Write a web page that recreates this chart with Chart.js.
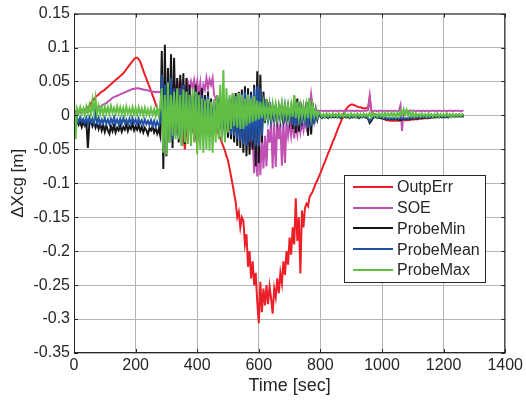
<!DOCTYPE html>
<html>
<head>
<meta charset="utf-8">
<script src="https://cdn.jsdelivr.net/npm/chart.js@4.4.1/dist/chart.umd.min.js"></script>
<style>
  html, body { margin: 0; padding: 0; background: #ffffff; }
  canvas { display: block; }
</style>
</head>
<body>
<canvas id="c" width="526" height="400"></canvas>
<script>
// ---- data (sample times every 5 s from 0 to 1265 s) ----
const time = [];
for (let t = 0; t <= 1265; t += 5) time.push(t);

const seriesNames = ['OutpErr', 'SOE', 'ProbeMin', 'ProbeMean', 'ProbeMax'];

const outpErr = [
  0.003,0.006,0.004,0.007,0.005,0.008,0.006,0.009,0.010,0.012,
  0.014,0.018,0.021,0.024,0.027,0.029,0.031,0.033,0.035,0.036,
  0.038,0.040,0.042,0.044,0.046,0.048,0.050,0.052,0.054,0.056,
  0.058,0.060,0.062,0.065,0.068,0.071,0.074,0.077,0.080,0.083,
  0.085,0.085,0.083,0.079,0.073,0.066,0.060,0.054,0.048,0.042,
  0.036,0.030,0.024,0.017,0.010,0.004,0.002,-0.004,0.008,-0.010,
  0.012,-0.015,0.006,-0.020,0.015,-0.008,0.010,-0.025,0.004,-0.018,
  0.012,-0.030,-0.050,-0.020,0.010,-0.015,0.008,-0.025,0.005,-0.030,
  -0.044,-0.010,0.008,-0.022,0.012,-0.018,0.006,-0.012,0.002,-0.008,
  -0.008,-0.012,-0.016,-0.022,-0.028,-0.034,-0.040,-0.046,-0.052,-0.060,
  -0.066,-0.078,-0.090,-0.102,-0.115,-0.128,-0.150,-0.142,-0.165,-0.150,
  -0.155,-0.190,-0.175,-0.223,-0.200,-0.240,-0.215,-0.250,-0.232,-0.275,
  -0.306,-0.245,-0.290,-0.255,-0.280,-0.250,-0.278,-0.252,-0.270,-0.292,
  -0.255,-0.268,-0.240,-0.262,-0.232,-0.248,-0.215,-0.235,-0.200,-0.220,
  -0.180,-0.205,-0.165,-0.190,-0.122,-0.185,-0.150,-0.233,-0.140,-0.165,
  -0.136,-0.130,-0.134,-0.120,-0.116,-0.112,-0.106,-0.100,-0.096,-0.090,
  -0.085,-0.079,-0.073,-0.068,-0.062,-0.056,-0.051,-0.045,-0.039,-0.034,
  -0.028,-0.022,-0.016,-0.011,-0.005,0.001,0.007,0.010,0.013,0.015,
  0.016,0.016,0.015,0.014,0.013,0.012,0.012,0.011,0.011,0.010,
  0.011,0.012,0.027,0.008,0.003,0.002,0.001,0.000,-0.002,-0.003,
  -0.004,-0.005,-0.006,-0.007,-0.007,-0.008,-0.008,-0.008,-0.008,-0.008,
  -0.008,-0.008,-0.007,-0.008,-0.007,-0.007,-0.007,-0.006,-0.007,-0.006,
  -0.006,-0.006,-0.005,-0.006,-0.005,-0.005,-0.005,-0.004,-0.004,-0.004,
  -0.004,-0.003,-0.003,-0.003,-0.003,-0.002,-0.002,-0.002,-0.002,-0.002,
  -0.002,-0.001,-0.001,-0.001,-0.001,0.000,0.000,0.000,0.000,0.000,
  0.000,0.000,0.001,0.001
];

const soe = [
  0.002,0.004,0.003,0.005,0.004,0.006,0.005,0.006,0.005,0.007,
  0.006,0.007,0.008,0.009,0.010,0.011,0.012,0.013,0.014,0.016,
  0.017,0.018,0.020,0.022,0.024,0.026,0.027,0.028,0.029,0.030,
  0.031,0.032,0.033,0.034,0.035,0.036,0.037,0.038,0.039,0.039,
  0.040,0.040,0.040,0.039,0.039,0.038,0.038,0.037,0.037,0.036,
  0.036,0.035,0.035,0.034,0.035,0.034,0.035,0.036,0.034,0.033,
  0.036,0.030,0.038,0.028,0.040,0.032,0.042,0.035,0.045,0.030,
  0.046,0.036,0.042,0.028,0.048,0.038,0.050,0.040,0.052,0.035,
  0.050,0.030,0.048,0.022,0.045,0.038,0.055,0.040,0.053,0.045,
  0.055,0.030,0.025,0.015,0.022,0.010,0.015,0.005,0.008,-0.002,
  0.004,-0.008,-0.002,-0.012,-0.006,-0.018,-0.010,-0.022,-0.015,-0.028,
  -0.020,-0.032,-0.025,-0.040,-0.030,-0.045,-0.035,-0.085,-0.040,-0.090,
  -0.035,-0.088,-0.030,-0.078,-0.030,-0.075,-0.020,-0.040,-0.010,-0.078,
  -0.012,-0.076,-0.010,-0.035,-0.012,-0.074,-0.008,-0.070,-0.010,-0.030,
  -0.010,-0.030,-0.008,-0.034,-0.012,-0.028,-0.006,-0.025,-0.010,-0.022,
  -0.006,-0.018,-0.004,0.010,0.031,0.012,0.008,0.006,0.007,0.006,
  0.007,0.007,0.006,0.007,0.007,0.006,0.007,0.007,0.006,0.007,
  0.007,0.006,0.007,0.007,0.007,0.006,0.007,0.007,0.007,0.007,
  0.007,0.007,0.006,0.007,0.007,0.007,0.006,0.007,0.007,0.007,
  0.007,0.008,0.028,0.007,0.006,0.007,0.007,0.006,0.007,0.007,
  0.007,0.006,0.007,0.007,0.006,0.007,0.007,0.006,0.007,0.007,
  0.006,0.007,0.015,-0.023,0.006,0.007,0.007,0.006,0.007,0.007,
  0.007,0.007,0.006,0.007,0.007,0.006,0.007,0.007,0.006,0.007,
  0.007,0.006,0.007,0.007,0.007,0.006,0.007,0.007,0.007,0.006,
  0.007,0.007,0.006,0.007,0.007,0.007,0.006,0.007,0.007,0.007,
  0.007,0.006,0.007,0.007
];

const probeMin = [
  -0.010,-0.016,-0.008,-0.014,-0.009,-0.017,-0.010,-0.015,-0.008,-0.048,
  -0.012,-0.008,-0.016,-0.010,-0.018,-0.011,-0.020,-0.012,-0.022,-0.014,
  -0.024,-0.015,-0.022,-0.027,-0.016,-0.023,-0.014,-0.025,-0.018,-0.022,
  -0.015,-0.024,-0.017,-0.021,-0.013,-0.023,-0.016,-0.020,-0.012,-0.022,
  -0.016,-0.021,-0.014,-0.023,-0.017,-0.025,-0.018,-0.022,-0.028,-0.019,
  -0.022,-0.016,-0.025,-0.019,-0.027,-0.020,-0.030,0.095,-0.079,0.104,
  -0.060,0.070,-0.040,0.090,-0.048,0.085,-0.030,0.055,-0.040,0.060,
  -0.045,0.062,-0.042,0.055,-0.035,0.045,-0.030,0.030,-0.026,0.045,
  -0.030,0.035,-0.025,0.040,-0.022,0.030,-0.028,0.035,-0.020,0.025,
  -0.028,0.020,-0.025,0.030,-0.022,0.015,-0.028,0.012,-0.030,0.020,
  -0.033,0.025,-0.035,0.030,-0.040,0.033,-0.045,0.035,-0.048,0.038,
  -0.055,0.043,-0.060,0.040,-0.058,0.035,-0.050,0.045,-0.075,0.065,
  -0.070,0.060,-0.040,0.035,-0.011,0.024,-0.010,0.020,-0.012,0.015,
  -0.010,0.016,-0.008,0.012,-0.006,0.018,-0.012,0.018,-0.010,0.012,
  -0.008,0.015,-0.020,0.028,-0.026,0.025,-0.024,0.020,-0.015,0.010,
  -0.010,0.020,-0.030,0.025,-0.028,0.018,-0.012,0.008,-0.006,0.004,
  -0.002,-0.004,-0.001,-0.003,-0.002,-0.004,-0.001,-0.003,-0.002,-0.003,
  -0.002,-0.003,-0.001,-0.004,-0.002,-0.003,-0.001,-0.003,-0.002,-0.004,
  -0.002,-0.003,-0.001,-0.003,-0.002,-0.004,-0.002,-0.003,-0.001,-0.003,
  -0.003,-0.005,-0.011,-0.008,-0.004,-0.003,-0.002,-0.004,-0.003,-0.004,
  -0.004,-0.005,-0.004,-0.006,-0.005,-0.006,-0.005,-0.006,-0.005,-0.006,
  -0.005,-0.006,-0.007,-0.006,-0.005,-0.006,-0.005,-0.006,-0.004,-0.005,
  -0.004,-0.005,-0.004,-0.005,-0.003,-0.004,-0.003,-0.004,-0.003,-0.004,
  -0.003,-0.004,-0.002,-0.003,-0.002,-0.003,-0.002,-0.003,-0.002,-0.003,
  -0.002,-0.003,-0.002,-0.003,-0.001,-0.002,-0.001,-0.002,-0.001,-0.002,
  -0.001,-0.002,-0.001,-0.002
];

const probeMean = [
  -0.002,-0.008,-0.004,-0.010,-0.003,-0.009,-0.005,-0.011,-0.004,-0.012,
  -0.003,-0.010,-0.005,-0.012,0.004,-0.011,-0.004,-0.013,-0.006,-0.011,
  -0.004,-0.012,-0.006,-0.013,-0.005,-0.011,-0.003,-0.012,-0.006,-0.013,
  -0.005,-0.012,-0.004,-0.011,-0.006,-0.013,-0.005,-0.012,-0.004,-0.011,
  -0.006,-0.013,-0.005,-0.012,-0.007,-0.014,-0.006,-0.013,-0.008,-0.014,
  -0.007,-0.015,-0.008,-0.016,-0.009,-0.015,-0.010,0.060,-0.050,0.045,
  -0.040,0.050,-0.030,0.055,-0.035,0.040,-0.025,0.035,-0.030,0.040,
  -0.035,0.045,-0.030,0.035,-0.025,0.030,-0.028,0.025,-0.022,0.035,
  -0.025,0.030,-0.020,0.030,-0.018,0.025,-0.022,0.028,-0.015,0.020,
  -0.020,0.018,-0.018,0.025,-0.015,0.012,-0.020,0.010,-0.022,0.015,
  -0.025,0.020,-0.028,0.025,-0.030,0.028,-0.035,0.030,-0.038,0.032,
  -0.042,0.035,-0.045,0.032,-0.040,0.030,-0.038,0.040,-0.045,0.043,
  -0.045,0.040,-0.030,0.025,-0.008,0.018,-0.006,0.015,-0.008,0.012,
  -0.006,0.012,-0.004,0.010,-0.004,0.014,-0.008,0.014,-0.006,0.010,
  -0.005,0.012,-0.014,0.020,-0.016,0.018,-0.015,0.015,-0.010,0.008,
  -0.008,0.015,-0.018,0.018,-0.016,0.012,-0.008,0.006,-0.004,0.003,
  -0.001,-0.003,0.000,-0.002,-0.001,-0.003,0.000,-0.002,-0.001,-0.002,
  -0.001,-0.002,0.000,-0.003,-0.001,-0.002,0.000,-0.002,-0.001,-0.003,
  -0.001,-0.002,0.000,-0.002,-0.001,-0.003,-0.001,-0.002,0.000,-0.002,
  -0.002,-0.004,-0.008,-0.005,-0.003,-0.002,-0.001,-0.003,-0.002,-0.003,
  -0.003,-0.004,-0.003,-0.005,-0.004,-0.005,-0.004,-0.005,-0.004,-0.005,
  -0.004,-0.005,-0.004,-0.005,-0.004,-0.005,-0.004,-0.005,-0.003,-0.004,
  -0.003,-0.004,-0.003,-0.004,-0.002,-0.003,-0.002,-0.003,-0.002,-0.003,
  -0.002,-0.003,-0.001,-0.002,-0.001,-0.002,-0.001,-0.002,-0.001,-0.002,
  -0.001,-0.002,-0.001,-0.002,0.000,-0.001,0.000,-0.001,0.000,-0.001,
  0.000,-0.001,0.000,-0.001
];

const probeMax = [
  0.025,-0.035,0.010,0.003,0.012,0.002,0.010,0.001,0.013,0.003,
  0.015,0.002,0.022,0.004,0.025,0.003,0.014,0.002,0.012,0.001,
  0.013,0.003,0.012,0.002,0.014,0.004,0.011,0.002,0.013,0.003,
  0.012,0.002,0.011,0.001,0.013,0.003,0.010,0.001,0.012,0.002,
  0.011,0.001,0.012,0.002,0.010,0.000,0.011,0.001,0.009,0.000,
  0.010,0.001,0.009,-0.001,0.011,0.000,0.012,0.040,-0.055,0.030,
  -0.058,0.048,-0.040,0.030,-0.030,0.035,-0.035,0.040,-0.035,0.030,
  -0.045,0.038,-0.040,0.035,-0.042,0.030,-0.045,0.038,-0.040,0.035,
  -0.057,0.030,-0.050,0.025,-0.055,0.022,-0.050,0.024,-0.052,0.020,
  -0.055,0.024,-0.040,0.030,-0.035,0.045,-0.038,0.067,-0.040,0.040,
  -0.025,0.030,-0.020,0.033,-0.016,0.028,-0.018,0.033,-0.020,0.030,
  -0.020,0.025,-0.015,0.030,-0.012,0.025,-0.010,0.028,-0.008,0.022,
  -0.006,0.020,-0.004,0.018,-0.002,0.016,-0.003,0.015,-0.002,0.017,
  -0.001,0.016,-0.003,0.014,-0.002,0.018,-0.001,0.015,-0.002,0.014,
  -0.001,0.016,-0.002,0.030,-0.004,0.020,-0.003,0.015,-0.002,0.014,
  -0.002,0.016,-0.004,0.026,-0.002,0.015,-0.001,0.008,-0.002,0.005,
  0.003,-0.002,0.002,-0.002,0.003,-0.001,0.002,-0.002,0.003,-0.001,
  0.002,-0.002,0.003,-0.001,0.002,-0.002,0.003,-0.001,0.002,-0.002,
  0.003,-0.001,0.002,-0.002,0.003,-0.001,0.002,-0.002,0.003,-0.001,
  0.002,-0.002,0.004,-0.003,0.003,-0.001,0.002,-0.002,0.003,-0.001,
  0.003,-0.002,0.004,-0.001,0.003,-0.002,0.004,-0.001,0.003,-0.002,
  0.004,-0.001,0.006,0.000,0.009,0.001,0.008,0.000,0.006,-0.001,
  0.004,-0.002,0.003,-0.001,0.002,-0.002,0.003,-0.001,0.002,-0.002,
  0.003,-0.001,0.002,-0.002,0.002,-0.001,0.003,-0.002,0.002,-0.001,
  0.002,-0.001,0.003,-0.001,0.002,-0.002,0.002,-0.001,0.002,-0.001,
  0.002,-0.001,0.002,0.000
];

const xTicks = [0, 200, 400, 600, 800, 1000, 1200, 1400];
const xTickLabels = ['0', '200', '400', '600', '800', '1000', '1200', '1400'];
const yTicks = [0.15, 0.1, 0.05, 0, -0.05, -0.1, -0.15, -0.2, -0.25, -0.3, -0.35];
const yTickLabels = ['0.15', '0.1', '0.05', '0', '-0.05', '-0.1', '-0.15', '-0.2', '-0.25', '-0.3', '-0.35'];

// ---- styling ----
const FONT = "'Liberation Sans', Arial, Helvetica, sans-serif";
const TEXT = '#262626';
const colors = ['#ee1f26', '#c050b2', '#161616', '#2152a8', '#62bf46'];
const seriesValues = [outpErr, soe, probeMin, probeMean, probeMax];

const datasets = seriesNames.map((name, k) => ({
  label: name,
  data: seriesValues[k].map((v, i) => ({ x: time[i], y: v })),
  borderColor: colors[k],
  backgroundColor: colors[k],
  borderWidth: 2,
  pointRadius: 0,
  tension: 0,
  fill: false,
  order: 4 - k
}));

const framePlugin = {
  id: 'frame',
  afterDatasetsDraw(chart) {
    const { ctx, chartArea: a, scales } = chart;
    ctx.save();
    ctx.strokeStyle = TEXT;
    ctx.lineWidth = 1;
    ctx.strokeRect(a.left + 0.5, a.top + 0.5, a.right - a.left - 1, a.bottom - a.top - 1);
    ctx.beginPath();
    const L = 4;
    xTicks.forEach(v => {
      const px = Math.round(scales.x.getPixelForValue(v)) + 0.5;
      ctx.moveTo(px, a.bottom); ctx.lineTo(px, a.bottom - L);
      ctx.moveTo(px, a.top); ctx.lineTo(px, a.top + L);
    });
    yTicks.forEach(v => {
      const py = Math.round(scales.y.getPixelForValue(v)) + 0.5;
      ctx.moveTo(a.left, py); ctx.lineTo(a.left + L, py);
      ctx.moveTo(a.right, py); ctx.lineTo(a.right - L, py);
    });
    ctx.stroke();
    ctx.restore();
  }
};

const legendBoxPlugin = {
  id: 'legendBox',
  afterDraw(chart) {
    const { ctx } = chart;
    const box = { x: 344, y: 175, w: 142, h: 108 };
    ctx.save();
    ctx.fillStyle = '#ffffff';
    ctx.fillRect(box.x, box.y, box.w, box.h);
    ctx.strokeStyle = TEXT;
    ctx.lineWidth = 1;
    ctx.strokeRect(box.x + 0.5, box.y + 0.5, box.w - 1, box.h - 1);
    ctx.font = '16px ' + FONT;
    ctx.textBaseline = 'middle';
    ctx.textAlign = 'left';
    chart.data.datasets.forEach((ds, i) => {
      const y = 187 + i * 20.7;
      ctx.strokeStyle = ds.borderColor;
      ctx.lineWidth = 2;
      ctx.beginPath();
      ctx.moveTo(353, Math.round(y));
      ctx.lineTo(393, Math.round(y));
      ctx.stroke();
      ctx.fillStyle = TEXT;
      ctx.fillText(ds.label, 397, y + 1);
    });
    ctx.restore();
  }
};

new Chart(document.getElementById('c'), {
  type: 'line',
  data: { datasets },
  options: {
    responsive: false,
    animation: false,
    devicePixelRatio: 1,
    layout: { padding: { top: 12, right: 17, left: 0, bottom: 0 } },
    plugins: { legend: { display: false }, tooltip: { enabled: false } },
    scales: {
      x: {
        type: 'linear',
        min: 0, max: 1400,
        afterBuildTicks: s => { s.ticks = xTicks.map(v => ({ value: v })); },
        afterFit: s => { s.height = 47; },
        ticks: {
          autoSkip: false, maxRotation: 0, padding: 3,
          color: TEXT, font: { family: FONT, size: 16 },
          callback: (v, i) => xTickLabels[i]
        },
        grid: { color: '#b4b4b4', lineWidth: 1, drawTicks: false },
        border: { display: false },
        title: {
          display: true, text: 'Time [sec]', color: TEXT,
          font: { family: FONT, size: 18, lineHeight: 1.2 },
          padding: { top: 0, bottom: 3 }
        }
      },
      y: {
        type: 'linear',
        min: -0.35, max: 0.15,
        afterBuildTicks: s => { s.ticks = yTicks.map(v => ({ value: v })); },
        afterFit: s => { s.width = 74; },
        ticks: {
          autoSkip: false, padding: 4,
          color: TEXT, font: { family: FONT, size: 16 },
          callback: (v, i) => yTickLabels[i]
        },
        grid: { color: '#b4b4b4', lineWidth: 1, drawTicks: false },
        border: { display: false },
        title: {
          display: true, text: 'ΔXcg [m]', color: TEXT,
          font: { family: FONT, size: 17, lineHeight: 1.2 },
          padding: { top: 8, bottom: 0 }
        }
      }
    }
  },
  plugins: [framePlugin, legendBoxPlugin]
});
</script>
</body>
</html>
